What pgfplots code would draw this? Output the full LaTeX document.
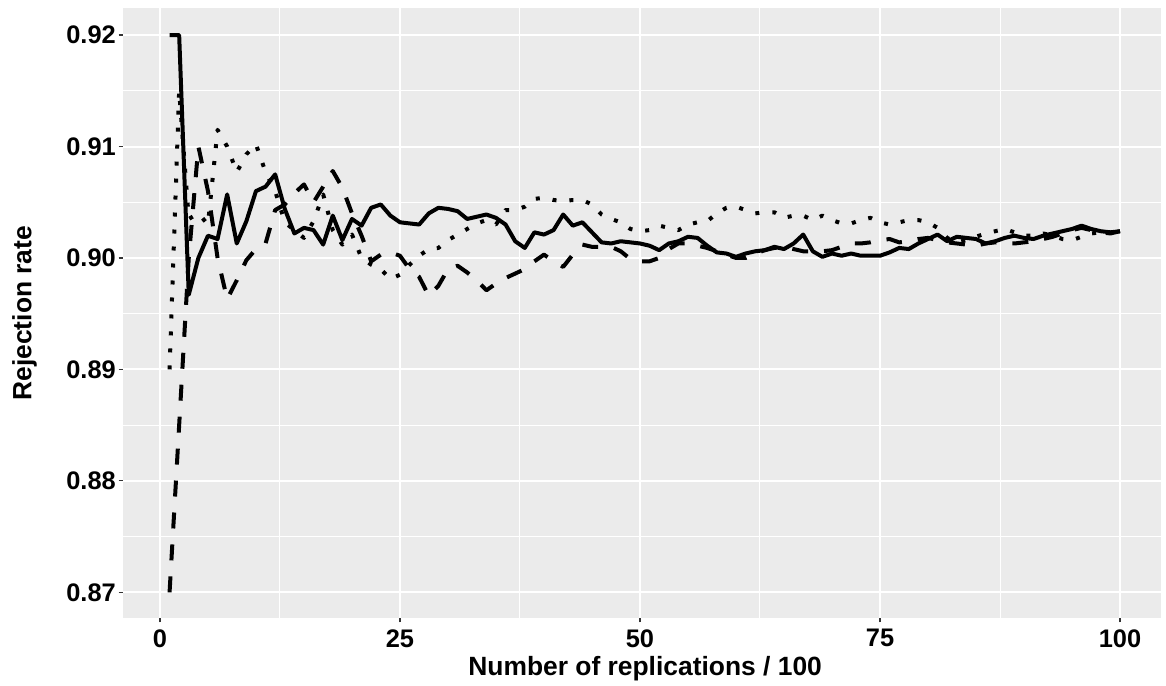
\documentclass[border=0pt]{standalone}
\usepackage{pgfplots}
\pgfplotsset{compat=1.18}
\usepackage{fontspec}
\setmainfont{Liberation Sans}
\definecolor{panel}{HTML}{EBEBEB}
\definecolor{tickc}{HTML}{333333}
\begin{document}
\begin{tikzpicture}
\begin{axis}[
 name=ax,
 scale only axis,
 width=519pt, height=304.85pt,
 xmin=-3.85, xmax=104.27, ymin=0.8677, ymax=0.9224,
 axis background/.style={fill=panel},
 axis line style={draw=none},
 tick pos=left, tick align=outside,
 major tick length=2.2pt, minor tick length=0pt,
 every tick/.style={tickc, line width=0.55pt},
 xtick={0,25,50,75,100}, minor xtick={12.5,37.5,62.5,87.5},
 ytick={0.87,0.88,0.89,0.90,0.91,0.92}, minor ytick={0.875,0.885,0.895,0.905,0.915},
 yticklabels={0.87,0.88,0.89,0.90,0.91,0.92},
 xticklabels={0,25,50,75,100},
 grid=both,
 major grid style={white, line width=1pt},
 minor grid style={white, line width=0.5pt},
 ticklabel style={font=\fontsize{12.7}{15}\selectfont\bfseries, text=black, inner sep=0pt},
 yticklabel style={anchor=east, xshift=-1.2pt},
 xticklabel style={anchor=north, yshift=-3.3pt},
 xlabel={Number of replications / 100},
 ylabel={Rejection rate},
 label style={font=\fontsize{13.2}{15}\selectfont\bfseries, inner sep=0pt},
 xlabel style={at={(axis description cs:0.503,-0.0623)}, anchor=north},
 ylabel style={at={(axis description cs:-0.0826,0.5)}, anchor=south},
 every axis plot/.append style={black, line width=2pt, line cap=butt, line join=round},
]
% dotted series
\addplot[dash pattern=on 2pt off 6.5pt] coordinates {
(1,0.8900)(2,0.9150)(3,0.9035)(4,0.9040)(5,0.9030)(6,0.9115)(7,0.9100)(8,0.9077)(9,0.9093)(10,0.9102)
(11,0.9077)(12,0.9060)(13,0.9032)(14,0.9025)(15,0.9018)(16,0.9033)(17,0.9057)(18,0.9025)(19,0.9012)(20,0.9021)
(21,0.9000)(22,0.8994)(23,0.8990)(24,0.8981)(25,0.8985)(26,0.8994)(27,0.9002)(28,0.9008)(29,0.9009)(30,0.9016)
(31,0.9021)(32,0.9026)(33,0.9031)(34,0.9034)(35,0.9030)(36,0.9043)(37,0.9043)(38,0.9046)(39,0.9053)(40,0.9054)
(41,0.9052)(42,0.9051)(43,0.9052)(44,0.9052)(45,0.9048)(46,0.9039)(47,0.9035)(48,0.9032)(49,0.9026)(50,0.9024)
(51,0.9025)(52,0.9029)(53,0.9027)(54,0.9025)(55,0.9030)(56,0.9032)(57,0.9033)(58,0.9040)(59,0.9045)(60,0.9046)
(61,0.9043)(62,0.9040)(63,0.9041)(64,0.9041)(65,0.9036)(66,0.9038)(67,0.9038)(68,0.9034)(69,0.9038)(70,0.9034)
(71,0.9031)(72,0.9031)(73,0.9034)(74,0.9036)(75,0.9032)(76,0.9030)(77,0.9032)(78,0.9034)(79,0.9034)(80,0.9032)
(81,0.9027)(82,0.9018)(83,0.9014)(84,0.9016)(85,0.9019)(86,0.9022)(87,0.9024)(88,0.9026)(89,0.9023)(90,0.9020)
(91,0.9020)(92,0.9022)(93,0.9020)(94,0.9017)(95,0.9016)(96,0.9019)(97,0.9022)(98,0.9023)(99,0.9023)(100,0.9023)
};
% dashed series
\addplot[dash pattern=on 8pt off 8pt] coordinates {
(1,0.8700)(2,0.8850)(3,0.9000)(4,0.9100)(5,0.9060)(6,0.9000)(7,0.8963)(8,0.8980)(9,0.8998)(10,0.9008)
(11,0.9013)(12,0.9043)(13,0.9048)(14,0.9058)(15,0.9066)(16,0.9050)(17,0.9064)(18,0.9078)(19,0.9063)(20,0.9040)
(21,0.9020)(22,0.8997)(23,0.9003)(24,0.9005)(25,0.9002)(26,0.8990)(27,0.8983)(28,0.8966)(29,0.8975)(30,0.8990)
(31,0.8993)(32,0.8987)(33,0.8980)(34,0.8971)(35,0.8977)(36,0.8982)(37,0.8986)(38,0.8990)(39,0.8997)(40,0.9003)
(41,0.8997)(42,0.8992)(43,0.9003)(44,0.9012)(45,0.9010)(46,0.9010)(47,0.9010)(48,0.9006)(49,0.8999)(50,0.8997)
(51,0.8997)(52,0.9000)(53,0.9008)(54,0.9013)(55,0.9013)(56,0.9011)(57,0.9009)(58,0.9006)(59,0.9003)(60,0.9000)
(61,0.9000)(62,0.9004)(63,0.9007)(64,0.9009)(65,0.9010)(66,0.9008)(67,0.9006)(68,0.9006)(69,0.9006)(70,0.9007)
(71,0.9010)(72,0.9013)(73,0.9013)(74,0.9014)(75,0.9016)(76,0.9017)(77,0.9014)(78,0.9015)(79,0.9017)(80,0.9018)
(81,0.9016)(82,0.9014)(83,0.9013)(84,0.9012)(85,0.9011)(86,0.9013)(87,0.9014)(88,0.9013)(89,0.9013)(90,0.9014)
(91,0.9015)(92,0.9017)(93,0.9019)(94,0.9022)(95,0.9025)(96,0.9027)(97,0.9025)(98,0.9023)(99,0.9022)(100,0.9024)
};
% solid series
\addplot[solid] coordinates {
(1,0.9200)(2,0.9200)(3,0.8967)(4,0.9000)(5,0.9020)(6,0.9017)(7,0.9057)(8,0.9013)(9,0.9033)(10,0.9060)
(11,0.9064)(12,0.9075)(13,0.9044)(14,0.9022)(15,0.9027)(16,0.9025)(17,0.9012)(18,0.9038)(19,0.9016)(20,0.9035)
(21,0.9029)(22,0.9045)(23,0.9048)(24,0.9038)(25,0.9032)(26,0.9031)(27,0.9030)(28,0.9040)(29,0.9045)(30,0.9044)
(31,0.9042)(32,0.9035)(33,0.9037)(34,0.9039)(35,0.9036)(36,0.9030)(37,0.9015)(38,0.9009)(39,0.9023)(40,0.9021)
(41,0.9025)(42,0.9039)(43,0.9029)(44,0.9032)(45,0.9023)(46,0.9014)(47,0.9013)(48,0.9015)(49,0.9014)(50,0.9013)
(51,0.9011)(52,0.9007)(53,0.9013)(54,0.9015)(55,0.9019)(56,0.9018)(57,0.9011)(58,0.9005)(59,0.9004)(60,0.9001)
(61,0.9004)(62,0.9006)(63,0.9007)(64,0.9010)(65,0.9008)(66,0.9013)(67,0.9021)(68,0.9006)(69,0.9001)(70,0.9004)
(71,0.9002)(72,0.9004)(73,0.9002)(74,0.9002)(75,0.9002)(76,0.9005)(77,0.9009)(78,0.9008)(79,0.9013)(80,0.9017)
(81,0.9021)(82,0.9015)(83,0.9019)(84,0.9018)(85,0.9017)(86,0.9013)(87,0.9015)(88,0.9018)(89,0.9020)(90,0.9018)
(91,0.9017)(92,0.9020)(93,0.9022)(94,0.9024)(95,0.9026)(96,0.9029)(97,0.9026)(98,0.9024)(99,0.9023)(100,0.9024)
};
\end{axis}
\path ([xshift=-61.5pt,yshift=-33.5pt]ax.south west) rectangle ([xshift=2.5pt,yshift=4.15pt]ax.north east);
\end{tikzpicture}
\end{document}
